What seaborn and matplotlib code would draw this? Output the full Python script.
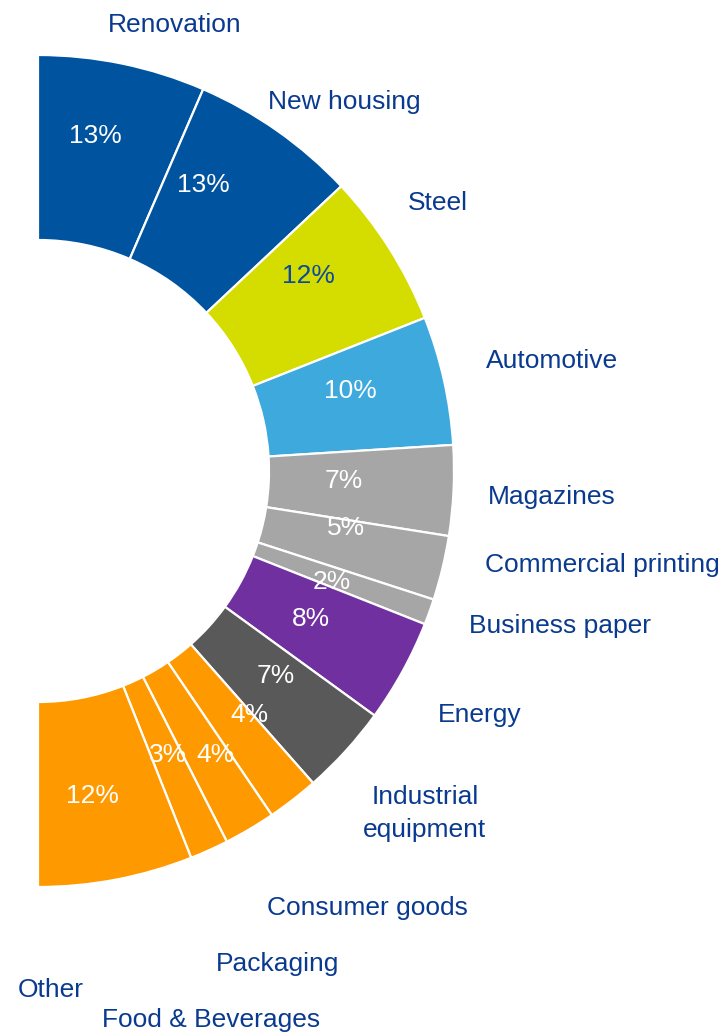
import matplotlib
matplotlib.use("Agg")
import matplotlib.pyplot as plt
import seaborn as sns

# End-use split of demand, in percent of total
sectors = ["Renovation", "New housing", "Steel", "Automotive", "Magazines",
           "Commercial printing", "Business paper", "Energy",
           "Industrial\nequipment", "Consumer goods", "Packaging",
           "Food & Beverages", "Other"]
shares = [13, 13, 12, 10, 7, 5, 2, 8, 7, 4, 4, 3, 12]
sector_colors = ["#00539F", "#00539F", "#D4DC00", "#3DA9DC", "#A6A6A6",
                 "#A6A6A6", "#A6A6A6", "#7030A0", "#595959", "#FF9900",
                 "#FF9900", "#FF9900", "#FF9900"]
pct_text_colors = ["white", "white", "#0B4A9E", "white", "white", "white",
                   "white", "white", "white", "white", "white", "white",
                   "white"]

# Canvas in pixels; the ring is the right half of a donut
W, H = 723, 1035
CX, CY = 38, H - 471
R_OUT, RING = 416, 185

# Text anchors (centre x, baseline of the last line, measured from the top)
name_anchor = [(175, 32), (344, 109), (438, 210), (552, 368), (552, 504),
               (602, 572), (560, 633), (480, 722), (425, 837), (367, 915),
               (278, 971), (211, 1027), (51, 997)]
pct_anchor = [(95, 143), (203, 192), (308, 283), (350, 398), (344, 488),
              (346, 535), (332, 589), (311, 626), (276, 683), (249, 722),
              (215, 762), (168, 762), (92, 803)]

sns.set_theme(style="white")
plt.rcParams["font.family"] = ["Liberation Sans", "DejaVu Sans"]
FS = 19
LABEL_BLUE = "#0A3A8F"

fig = plt.figure(figsize=(W / 100, H / 100), dpi=100)
ax = fig.add_axes([0, 0, 1, 1])

# A blank counterweight equal to the total turns the pie into a half ring
wedges, _ = ax.pie(shares + [sum(shares)],
                   colors=sector_colors + ["none"],
                   startangle=90, counterclock=False,
                   radius=R_OUT, center=(CX, CY),
                   wedgeprops=dict(width=RING, edgecolor="white", linewidth=1.6))
wedges[-1].set_visible(False)

for name, (x, y) in zip(sectors, name_anchor):
    ax.text(x, H - y, name, ha="center", va="baseline", fontsize=FS,
            color=LABEL_BLUE, multialignment="center", linespacing=1.5)

for val, col, (x, y) in zip(shares, pct_text_colors, pct_anchor):
    ax.text(x, H - y, f"{val}%", ha="center", va="baseline", fontsize=FS,
            color=col)

ax.set_xlim(0, W)
ax.set_ylim(0, H)
ax.set_aspect("equal")
ax.axis("off")

fig.savefig("out.png", dpi=100, facecolor="white")
